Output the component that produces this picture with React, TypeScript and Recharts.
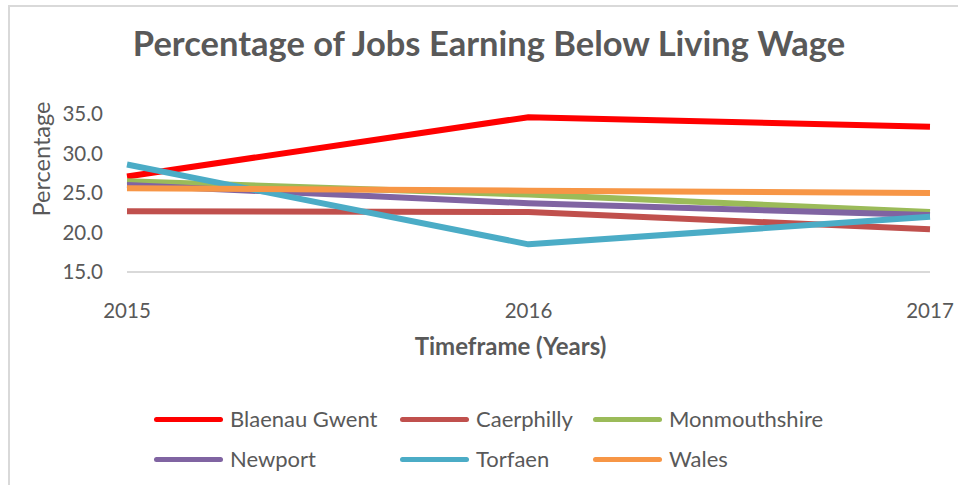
import React from 'react';
import { LineChart, Line, XAxis, YAxis, Legend, Label } from 'recharts';

const years = ['2015', '2016', '2017'];
const blaenauGwent = [27.1, 34.6, 33.4];
const caerphilly = [22.7, 22.6, 20.4];
const monmouthshire = [26.5, 24.8, 22.6];
const newport = [26.0, 23.7, 22.2];
const torfaen = [28.6, 18.5, 22.0];
const wales = [25.6, 25.3, 25.0];
const yTicks = [15, 20, 25, 30, 35];

const series = [
  { name: 'Blaenau Gwent', values: blaenauGwent, color: '#FF0000' },
  { name: 'Caerphilly', values: caerphilly, color: '#C0504D' },
  { name: 'Monmouthshire', values: monmouthshire, color: '#9BBB59' },
  { name: 'Newport', values: newport, color: '#8064A2' },
  { name: 'Torfaen', values: torfaen, color: '#4BACC6' },
  { name: 'Wales', values: wales, color: '#F79646' },
];

const data = years.map((year, i) => {
  const row: Record<string, string | number> = { year };
  series.forEach((s) => {
    row[s.name] = s.values[i];
  });
  return row;
});

const FONT = 'Lato, "Open Sans", sans-serif';
const TEXT = '#595959';
const colLefts = [154, 400, 593];

const LegendContent = () => (
  <div style={{ height: 85, position: 'relative', fontFamily: FONT }}>
    {series.map((s, i) => {
      const row = Math.floor(i / 3);
      const col = i % 3;
      return (
        <div
          key={s.name}
          style={{
            position: 'absolute',
            left: colLefts[col],
            top: row === 0 ? 19 : 59,
            transform: 'translateY(-50%)',
            display: 'flex',
            alignItems: 'center',
            whiteSpace: 'nowrap',
          }}
        >
          <span
            style={{
              display: 'inline-block',
              width: 69,
              height: 5,
              borderRadius: 3,
              background: s.color,
              marginRight: 7,
            }}
          />
          <span style={{ fontSize: 22, color: TEXT, lineHeight: '26px' }}>{s.name}</span>
        </div>
      );
    })}
  </div>
);

export default function App() {
  return (
    <div
      style={{
        position: 'absolute',
        left: 0,
        top: 0,
        width: 958,
        height: 485,
        overflow: 'hidden',
        background: '#fff',
      }}
    >
      <div
        style={{
          position: 'absolute',
          left: 8,
          top: 5,
          width: 960,
          height: 490,
          borderTop: '2px solid #d9d9d9',
          borderLeft: '2px solid #d9d9d9',
          boxSizing: 'border-box',
        }}
      />
      <div
        style={{
          position: 'absolute',
          left: 489 - 400,
          top: 23,
          width: 800,
          height: 40,
          lineHeight: '40px',
          textAlign: 'center',
          fontFamily: FONT,
          fontWeight: 700,
          fontSize: 34.5,
          color: TEXT,
        }}
      >
        Percentage of Jobs Earning Below Living Wage
      </div>
      <div style={{ position: 'absolute', left: 0, top: 0 }}>
        <LineChart
          width={958}
          height={485}
          data={data}
          margin={{ top: 114, right: 28, bottom: 0, left: 0 }}
        >
          <XAxis
            dataKey="year"
            tickLine={false}
            axisLine={{ stroke: '#d9d9d9', strokeWidth: 2 }}
            tick={{ fill: TEXT, fontSize: 20.5, fontFamily: FONT }}
            tickMargin={25}
            height={128}
            interval={0}
          >
            <Label
              content={({ viewBox }: any) => (
                <text
                  x={viewBox.x + viewBox.width / 2 - 18}
                  y={viewBox.y + 83}
                  textAnchor="middle"
                  fill={TEXT}
                  fontFamily={FONT}
                  fontWeight={700}
                  fontSize={24}
                >
                  Timeframe (Years)
                </text>
              )}
            />
          </XAxis>
          <YAxis
            domain={[15, 35]}
            ticks={yTicks}
            tickFormatter={(v: number) => v.toFixed(1)}
            tickLine={false}
            axisLine={false}
            width={127}
            tickMargin={18}
            tick={{ fill: TEXT, fontSize: 20.5, fontFamily: FONT }}
            interval={0}
          >
            <Label
              content={() => (
                <text
                  x={41}
                  y={159}
                  transform="rotate(-90 41 159)"
                  textAnchor="middle"
                  dominantBaseline="central"
                  fill={TEXT}
                  fontFamily={FONT}
                  fontSize={23.5}
                >
                  Percentage
                </text>
              )}
            />
          </YAxis>
          <Legend verticalAlign="bottom" content={LegendContent} wrapperStyle={{ left: 0, width: 958 }} />
          {series.map((s) => (
            <Line
              key={s.name}
              type="linear"
              dataKey={s.name}
              stroke={s.color}
              strokeWidth={6}
              strokeLinejoin="round"
              dot={false}
              activeDot={false}
              isAnimationActive={false}
            />
          ))}
        </LineChart>
      </div>
    </div>
  );
}
